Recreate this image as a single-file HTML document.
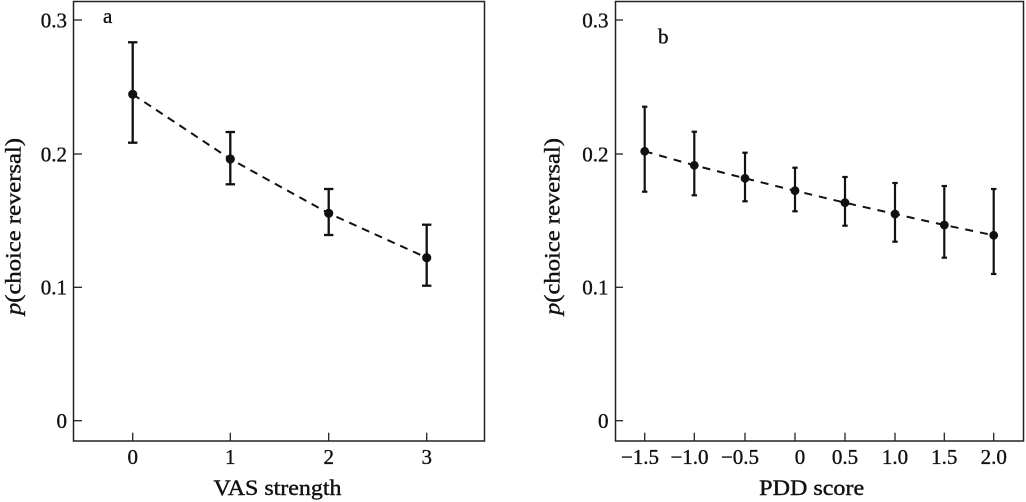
<!DOCTYPE html>
<html>
<head>
<meta charset="utf-8">
<style>
html,body{margin:0;padding:0;background:#fff;}
svg{display:block;}
text{font-family:"Liberation Serif","Times New Roman",serif;fill:#111;stroke:#111;stroke-width:0.35px;}
</style>
</head>
<body>
<svg width="1026" height="502" viewBox="0 0 1026 502" xmlns="http://www.w3.org/2000/svg">
<rect width="1026" height="502" fill="#fff"/>

<!-- ===== Panel A ===== -->
<rect x="73.5" y="1.5" width="411" height="439.5" fill="none" stroke="#222" stroke-width="1.5"/>
<g stroke="#222" stroke-width="1.3">
  <line x1="73.5" y1="20" x2="82" y2="20"/>
  <line x1="73.5" y1="154" x2="82" y2="154"/>
  <line x1="73.5" y1="287.3" x2="82" y2="287.3"/>
  <line x1="73.5" y1="420.7" x2="82" y2="420.7"/>
  <line x1="132.7" y1="432.7" x2="132.7" y2="441"/>
  <line x1="230.3" y1="432.7" x2="230.3" y2="441"/>
  <line x1="328.7" y1="432.7" x2="328.7" y2="441"/>
  <line x1="426.7" y1="432.7" x2="426.7" y2="441"/>
</g>
<g font-size="21" text-anchor="end">
  <text x="67" y="27.3">0.3</text>
  <text x="67" y="161.3">0.2</text>
  <text x="67" y="294.5">0.1</text>
  <text x="67" y="428">0</text>
</g>
<g font-size="21" text-anchor="middle">
  <text x="132.7" y="464">0</text>
  <text x="230.3" y="464">1</text>
  <text x="328.7" y="464">2</text>
  <text x="426.7" y="464">3</text>
</g>
<text x="277.5" y="495" font-size="22" text-anchor="middle" textLength="128" lengthAdjust="spacingAndGlyphs" style="stroke-width:0.4px">VAS strength</text>
<text transform="translate(20.5,315) rotate(-90)" font-size="22" textLength="177" lengthAdjust="spacingAndGlyphs" style="stroke-width:0.4px"><tspan font-style="italic">p</tspan>(choice reversal)</text>
<text x="103" y="23" font-size="21">a</text>

<polyline points="132.7,94.3 230.3,159 328.7,213.3 426.7,257.7" fill="none" stroke="#111" stroke-width="2" stroke-dasharray="8 6"/>
<g stroke="#111" stroke-width="2.3">
  <line x1="132.7" y1="42.3" x2="132.7" y2="142.7"/>
  <line x1="128" y1="42.3" x2="137.4" y2="42.3"/>
  <line x1="128" y1="142.7" x2="137.4" y2="142.7"/>
  <line x1="230.3" y1="132" x2="230.3" y2="184.3"/>
  <line x1="225.6" y1="132" x2="235" y2="132"/>
  <line x1="225.6" y1="184.3" x2="235" y2="184.3"/>
  <line x1="328.7" y1="189" x2="328.7" y2="235"/>
  <line x1="324" y1="189" x2="333.4" y2="189"/>
  <line x1="324" y1="235" x2="333.4" y2="235"/>
  <line x1="426.7" y1="224.7" x2="426.7" y2="285.7"/>
  <line x1="422" y1="224.7" x2="431.4" y2="224.7"/>
  <line x1="422" y1="285.7" x2="431.4" y2="285.7"/>
</g>
<g fill="#111">
  <circle cx="132.7" cy="94.3" r="4.6"/>
  <circle cx="230.3" cy="159" r="4.6"/>
  <circle cx="328.7" cy="213.3" r="4.6"/>
  <circle cx="426.7" cy="257.7" r="4.6"/>
</g>

<!-- ===== Panel B ===== -->
<rect x="615.5" y="1.5" width="408" height="439.5" fill="none" stroke="#222" stroke-width="1.5"/>
<g stroke="#222" stroke-width="1.3">
  <line x1="615.5" y1="20" x2="623" y2="20"/>
  <line x1="615.5" y1="154" x2="623" y2="154"/>
  <line x1="615.5" y1="287.3" x2="623" y2="287.3"/>
  <line x1="615.5" y1="420.7" x2="623" y2="420.7"/>
  <line x1="644.7" y1="432.7" x2="644.7" y2="441"/>
  <line x1="694.3" y1="432.7" x2="694.3" y2="441"/>
  <line x1="745" y1="432.7" x2="745" y2="441"/>
  <line x1="795" y1="432.7" x2="795" y2="441"/>
  <line x1="845" y1="432.7" x2="845" y2="441"/>
  <line x1="895" y1="432.7" x2="895" y2="441"/>
  <line x1="944.3" y1="432.7" x2="944.3" y2="441"/>
  <line x1="993.7" y1="432.7" x2="993.7" y2="441"/>
</g>
<g font-size="21" text-anchor="end">
  <text x="608.5" y="27.3">0.3</text>
  <text x="608.5" y="161.3">0.2</text>
  <text x="608.5" y="294.5">0.1</text>
  <text x="608.5" y="428">0</text>
</g>
<g font-size="21" text-anchor="middle">
  <text x="640" y="464">−1.5</text>
  <text x="689.5" y="464">−1.0</text>
  <text x="740" y="464">−0.5</text>
  <text x="800" y="464">0</text>
  <text x="845" y="464">0.5</text>
  <text x="895" y="464">1.0</text>
  <text x="944.3" y="464">1.5</text>
  <text x="993.7" y="464">2.0</text>
</g>
<text x="811.7" y="495" font-size="22" text-anchor="middle" textLength="105" lengthAdjust="spacingAndGlyphs" style="stroke-width:0.4px">PDD score</text>
<text transform="translate(559.5,315) rotate(-90)" font-size="22" textLength="177" lengthAdjust="spacingAndGlyphs" style="stroke-width:0.4px"><tspan font-style="italic">p</tspan>(choice reversal)</text>
<text x="658" y="43.3" font-size="21">b</text>

<polyline points="644.7,151.3 694.3,165.3 745,178.3 795,190.7 845,202.7 895,214 944.3,225 993.7,235.3" fill="none" stroke="#111" stroke-width="2" stroke-dasharray="8 7"/>
<g stroke="#111" stroke-width="2.2">
  <line x1="644.7" y1="106.7" x2="644.7" y2="191.7"/><line x1="642" y1="106.7" x2="647.4" y2="106.7"/><line x1="642" y1="191.7" x2="647.4" y2="191.7"/>
  <line x1="694.3" y1="131.7" x2="694.3" y2="195.3"/><line x1="691.6" y1="131.7" x2="697" y2="131.7"/><line x1="691.6" y1="195.3" x2="697" y2="195.3"/>
  <line x1="745" y1="152.7" x2="745" y2="201.3"/><line x1="742.3" y1="152.7" x2="747.7" y2="152.7"/><line x1="742.3" y1="201.3" x2="747.7" y2="201.3"/>
  <line x1="795" y1="167.7" x2="795" y2="211.3"/><line x1="792.3" y1="167.7" x2="797.7" y2="167.7"/><line x1="792.3" y1="211.3" x2="797.7" y2="211.3"/>
  <line x1="845" y1="177" x2="845" y2="225.7"/><line x1="842.3" y1="177" x2="847.7" y2="177"/><line x1="842.3" y1="225.7" x2="847.7" y2="225.7"/>
  <line x1="895" y1="183" x2="895" y2="241.7"/><line x1="892.3" y1="183" x2="897.7" y2="183"/><line x1="892.3" y1="241.7" x2="897.7" y2="241.7"/>
  <line x1="944.3" y1="186" x2="944.3" y2="257.7"/><line x1="941.6" y1="186" x2="947" y2="186"/><line x1="941.6" y1="257.7" x2="947" y2="257.7"/>
  <line x1="993.7" y1="189" x2="993.7" y2="274"/><line x1="991" y1="189" x2="996.4" y2="189"/><line x1="991" y1="274" x2="996.4" y2="274"/>
</g>
<g fill="#111">
  <circle cx="644.7" cy="151.3" r="4.4"/>
  <circle cx="694.3" cy="165.3" r="4.4"/>
  <circle cx="745" cy="178.3" r="4.4"/>
  <circle cx="795" cy="190.7" r="4.4"/>
  <circle cx="845" cy="202.7" r="4.4"/>
  <circle cx="895" cy="214" r="4.4"/>
  <circle cx="944.3" cy="225" r="4.4"/>
  <circle cx="993.7" cy="235.3" r="4.4"/>
</g>
</svg>
</body>
</html>
